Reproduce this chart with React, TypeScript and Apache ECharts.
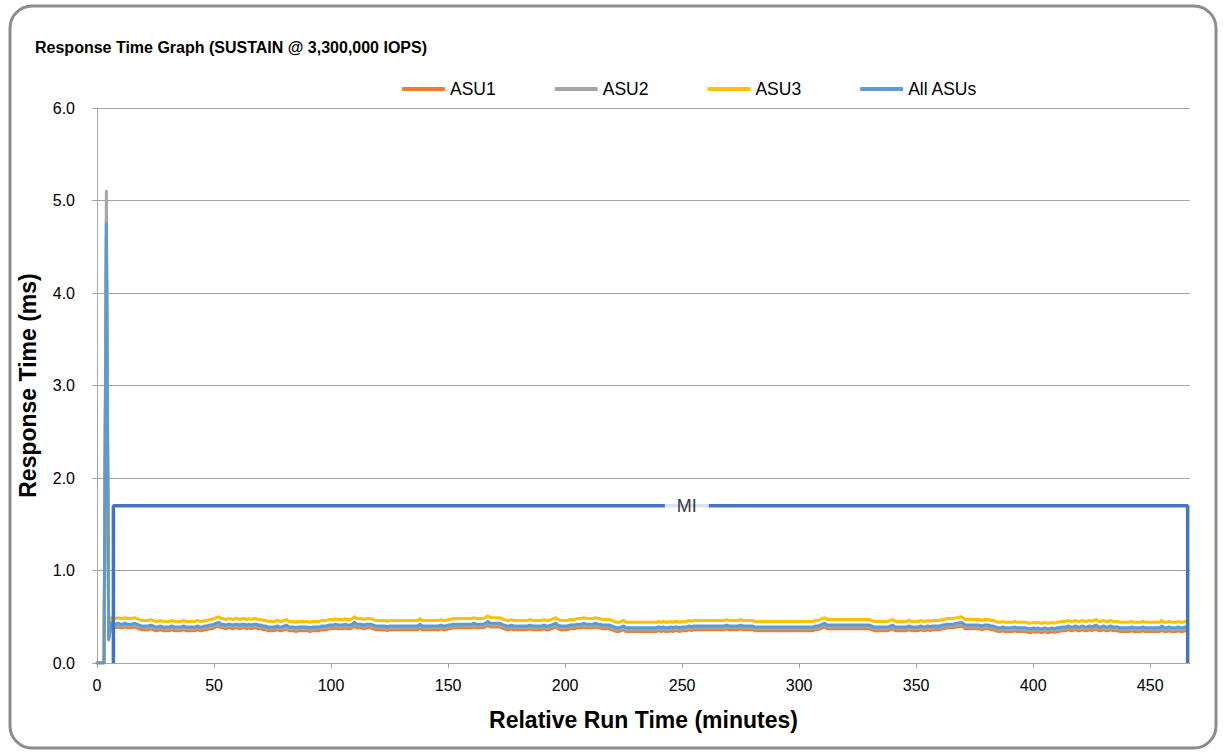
import React, { useEffect, useRef } from "react";
import * as echarts from "echarts";

const titleText = "Response Time Graph (SUSTAIN @ 3,300,000 IOPS)";
const seriesNames = ["ASU1", "ASU2", "ASU3", "All ASUs"];
const seriesColors = ["#ED7D31", "#A5A5A5", "#FFC000", "#5B9BD5"];
const xTicks = [0, 50, 100, 150, 200, 250, 300, 350, 400, 450];
const yTicks = [0, 1, 2, 3, 4, 5, 6];

// Response time (ms) per minute, minute 0..466
const asu3 = [
  0, 0, 0, 0, 4.40, 0.30, 0.49, 0.48, 0.48, 0.49,
  0.48, 0.48, 0.49, 0.48, 0.48, 0.48, 0.49, 0.48, 0.47, 0.46,
  0.46, 0.46, 0.46, 0.47, 0.46, 0.45, 0.45, 0.46, 0.45, 0.45,
  0.45, 0.45, 0.46, 0.45, 0.45, 0.45, 0.45, 0.46, 0.45, 0.45,
  0.45, 0.45, 0.45, 0.46, 0.45, 0.45, 0.46, 0.46, 0.47, 0.47,
  0.48, 0.49, 0.50, 0.48, 0.48, 0.47, 0.48, 0.48, 0.47, 0.48,
  0.48, 0.47, 0.48, 0.48, 0.47, 0.48, 0.47, 0.48, 0.48, 0.47,
  0.47, 0.46, 0.46, 0.45, 0.45, 0.45, 0.45, 0.46, 0.45, 0.45,
  0.46, 0.47, 0.45, 0.45, 0.45, 0.44, 0.45, 0.45, 0.45, 0.45,
  0.45, 0.44, 0.45, 0.45, 0.45, 0.45, 0.46, 0.46, 0.46, 0.47,
  0.47, 0.47, 0.48, 0.47, 0.47, 0.47, 0.48, 0.47, 0.47, 0.48,
  0.50, 0.48, 0.48, 0.48, 0.47, 0.48, 0.48, 0.48, 0.47, 0.46,
  0.46, 0.46, 0.46, 0.46, 0.45, 0.46, 0.46, 0.46, 0.46, 0.46,
  0.46, 0.46, 0.46, 0.46, 0.46, 0.46, 0.46, 0.46, 0.48, 0.46,
  0.46, 0.46, 0.46, 0.46, 0.46, 0.46, 0.46, 0.47, 0.46, 0.46,
  0.47, 0.47, 0.48, 0.48, 0.48, 0.48, 0.48, 0.48, 0.48, 0.48,
  0.48, 0.49, 0.48, 0.48, 0.48, 0.48, 0.49, 0.51, 0.49, 0.49,
  0.49, 0.49, 0.49, 0.48, 0.47, 0.46, 0.46, 0.47, 0.46, 0.46,
  0.46, 0.46, 0.46, 0.46, 0.46, 0.47, 0.46, 0.46, 0.46, 0.46,
  0.46, 0.47, 0.46, 0.46, 0.47, 0.48, 0.49, 0.47, 0.46, 0.46,
  0.46, 0.46, 0.47, 0.47, 0.47, 0.48, 0.48, 0.48, 0.49, 0.48,
  0.48, 0.48, 0.48, 0.49, 0.48, 0.48, 0.47, 0.47, 0.47, 0.47,
  0.46, 0.45, 0.44, 0.44, 0.45, 0.46, 0.44, 0.44, 0.44, 0.44,
  0.44, 0.44, 0.44, 0.44, 0.44, 0.44, 0.44, 0.44, 0.44, 0.44,
  0.45, 0.44, 0.45, 0.44, 0.44, 0.45, 0.44, 0.45, 0.45, 0.44,
  0.45, 0.45, 0.45, 0.46, 0.45, 0.46, 0.46, 0.46, 0.46, 0.46,
  0.46, 0.46, 0.46, 0.46, 0.46, 0.46, 0.46, 0.46, 0.46, 0.47,
  0.46, 0.46, 0.46, 0.46, 0.46, 0.47, 0.46, 0.46, 0.46, 0.46,
  0.46, 0.45, 0.45, 0.45, 0.45, 0.45, 0.45, 0.45, 0.45, 0.45,
  0.45, 0.45, 0.45, 0.45, 0.45, 0.45, 0.45, 0.45, 0.45, 0.45,
  0.45, 0.45, 0.45, 0.45, 0.45, 0.45, 0.45, 0.46, 0.46, 0.47,
  0.48, 0.49, 0.47, 0.47, 0.47, 0.47, 0.47, 0.47, 0.47, 0.47,
  0.47, 0.47, 0.47, 0.47, 0.47, 0.47, 0.47, 0.47, 0.47, 0.47,
  0.47, 0.46, 0.45, 0.45, 0.45, 0.45, 0.45, 0.45, 0.45, 0.46,
  0.47, 0.45, 0.45, 0.45, 0.45, 0.45, 0.45, 0.46, 0.45, 0.45,
  0.45, 0.45, 0.46, 0.45, 0.45, 0.46, 0.45, 0.46, 0.46, 0.46,
  0.46, 0.47, 0.47, 0.48, 0.48, 0.48, 0.48, 0.49, 0.49, 0.50,
  0.49, 0.47, 0.47, 0.47, 0.47, 0.47, 0.47, 0.47, 0.46, 0.47,
  0.47, 0.47, 0.46, 0.46, 0.45, 0.44, 0.44, 0.45, 0.44, 0.44,
  0.44, 0.44, 0.45, 0.44, 0.44, 0.44, 0.44, 0.44, 0.43, 0.43,
  0.44, 0.43, 0.44, 0.43, 0.43, 0.44, 0.43, 0.43, 0.44, 0.43,
  0.44, 0.44, 0.45, 0.45, 0.45, 0.46, 0.45, 0.45, 0.46, 0.45,
  0.45, 0.46, 0.45, 0.45, 0.46, 0.45, 0.46, 0.47, 0.45, 0.45,
  0.46, 0.45, 0.45, 0.46, 0.45, 0.45, 0.45, 0.44, 0.44, 0.44,
  0.44, 0.44, 0.45, 0.44, 0.44, 0.44, 0.44, 0.45, 0.44, 0.44,
  0.44, 0.44, 0.44, 0.44, 0.44, 0.46, 0.44, 0.44, 0.45, 0.44,
  0.44, 0.44, 0.45, 0.44, 0.44, 0.45, 0.44,
];

const allAsus = [
  0, 0, 0, 0, 4.75, 0.25, 0.43, 0.42, 0.42, 0.43,
  0.42, 0.42, 0.43, 0.42, 0.42, 0.42, 0.43, 0.42, 0.41, 0.40,
  0.40, 0.40, 0.40, 0.41, 0.40, 0.39, 0.39, 0.40, 0.39, 0.39,
  0.39, 0.39, 0.40, 0.39, 0.39, 0.39, 0.39, 0.40, 0.39, 0.39,
  0.39, 0.39, 0.39, 0.40, 0.39, 0.39, 0.40, 0.40, 0.41, 0.41,
  0.42, 0.43, 0.44, 0.42, 0.42, 0.41, 0.42, 0.42, 0.41, 0.42,
  0.42, 0.41, 0.42, 0.42, 0.41, 0.42, 0.41, 0.42, 0.42, 0.41,
  0.41, 0.40, 0.40, 0.39, 0.39, 0.39, 0.39, 0.40, 0.39, 0.39,
  0.40, 0.41, 0.39, 0.39, 0.39, 0.38, 0.39, 0.39, 0.39, 0.39,
  0.39, 0.38, 0.39, 0.39, 0.39, 0.39, 0.40, 0.40, 0.40, 0.41,
  0.41, 0.41, 0.42, 0.41, 0.41, 0.41, 0.42, 0.41, 0.41, 0.42,
  0.44, 0.42, 0.42, 0.42, 0.41, 0.42, 0.42, 0.42, 0.41, 0.40,
  0.40, 0.40, 0.40, 0.40, 0.39, 0.40, 0.40, 0.40, 0.40, 0.40,
  0.40, 0.40, 0.40, 0.40, 0.40, 0.40, 0.40, 0.40, 0.42, 0.40,
  0.40, 0.40, 0.40, 0.40, 0.40, 0.40, 0.40, 0.41, 0.40, 0.40,
  0.41, 0.41, 0.42, 0.42, 0.42, 0.42, 0.42, 0.42, 0.42, 0.42,
  0.42, 0.43, 0.42, 0.42, 0.42, 0.42, 0.43, 0.45, 0.43, 0.43,
  0.43, 0.43, 0.43, 0.42, 0.41, 0.40, 0.40, 0.41, 0.40, 0.40,
  0.40, 0.40, 0.40, 0.40, 0.40, 0.41, 0.40, 0.40, 0.40, 0.40,
  0.40, 0.41, 0.40, 0.40, 0.41, 0.42, 0.43, 0.41, 0.40, 0.40,
  0.40, 0.40, 0.41, 0.41, 0.41, 0.42, 0.42, 0.42, 0.43, 0.42,
  0.42, 0.42, 0.42, 0.43, 0.42, 0.42, 0.41, 0.41, 0.41, 0.41,
  0.40, 0.39, 0.38, 0.38, 0.39, 0.40, 0.38, 0.38, 0.38, 0.38,
  0.38, 0.38, 0.38, 0.38, 0.38, 0.38, 0.38, 0.38, 0.38, 0.38,
  0.39, 0.38, 0.39, 0.38, 0.38, 0.39, 0.38, 0.39, 0.39, 0.38,
  0.39, 0.39, 0.39, 0.40, 0.39, 0.40, 0.40, 0.40, 0.40, 0.40,
  0.40, 0.40, 0.40, 0.40, 0.40, 0.40, 0.40, 0.40, 0.40, 0.41,
  0.40, 0.40, 0.40, 0.40, 0.40, 0.41, 0.40, 0.40, 0.40, 0.40,
  0.40, 0.39, 0.39, 0.39, 0.39, 0.39, 0.39, 0.39, 0.39, 0.39,
  0.39, 0.39, 0.39, 0.39, 0.39, 0.39, 0.39, 0.39, 0.39, 0.39,
  0.39, 0.39, 0.39, 0.39, 0.39, 0.39, 0.39, 0.40, 0.40, 0.41,
  0.42, 0.43, 0.41, 0.41, 0.41, 0.41, 0.41, 0.41, 0.41, 0.41,
  0.41, 0.41, 0.41, 0.41, 0.41, 0.41, 0.41, 0.41, 0.41, 0.41,
  0.41, 0.40, 0.39, 0.39, 0.39, 0.39, 0.39, 0.39, 0.39, 0.40,
  0.41, 0.39, 0.39, 0.39, 0.39, 0.39, 0.39, 0.40, 0.39, 0.39,
  0.39, 0.39, 0.40, 0.39, 0.39, 0.40, 0.39, 0.40, 0.40, 0.40,
  0.40, 0.41, 0.41, 0.42, 0.42, 0.42, 0.42, 0.43, 0.43, 0.44,
  0.43, 0.41, 0.41, 0.41, 0.41, 0.41, 0.41, 0.41, 0.40, 0.41,
  0.41, 0.41, 0.40, 0.40, 0.39, 0.38, 0.38, 0.39, 0.38, 0.38,
  0.38, 0.38, 0.39, 0.38, 0.38, 0.38, 0.38, 0.38, 0.37, 0.37,
  0.38, 0.37, 0.38, 0.37, 0.37, 0.38, 0.37, 0.37, 0.38, 0.37,
  0.38, 0.38, 0.39, 0.39, 0.39, 0.40, 0.39, 0.39, 0.40, 0.39,
  0.39, 0.40, 0.39, 0.39, 0.40, 0.39, 0.40, 0.41, 0.39, 0.39,
  0.40, 0.39, 0.39, 0.40, 0.39, 0.39, 0.39, 0.38, 0.38, 0.38,
  0.38, 0.38, 0.39, 0.38, 0.38, 0.38, 0.38, 0.39, 0.38, 0.38,
  0.38, 0.38, 0.38, 0.38, 0.38, 0.40, 0.38, 0.38, 0.39, 0.38,
  0.38, 0.38, 0.39, 0.38, 0.38, 0.39, 0.38,
];

const asu2 = [
  0, 0, 0, 0, 5.10, 0.27, 0.41, 0.40, 0.40, 0.41,
  0.40, 0.40, 0.41, 0.40, 0.40, 0.40, 0.41, 0.40, 0.39, 0.38,
  0.38, 0.38, 0.38, 0.39, 0.38, 0.37, 0.37, 0.38, 0.37, 0.37,
  0.37, 0.37, 0.38, 0.37, 0.37, 0.37, 0.37, 0.38, 0.37, 0.37,
  0.37, 0.37, 0.37, 0.38, 0.37, 0.37, 0.38, 0.38, 0.39, 0.39,
  0.40, 0.41, 0.42, 0.40, 0.40, 0.39, 0.40, 0.40, 0.39, 0.40,
  0.40, 0.39, 0.40, 0.40, 0.39, 0.40, 0.39, 0.40, 0.40, 0.39,
  0.39, 0.38, 0.38, 0.37, 0.37, 0.37, 0.37, 0.38, 0.37, 0.37,
  0.38, 0.39, 0.37, 0.37, 0.37, 0.36, 0.37, 0.37, 0.37, 0.37,
  0.37, 0.36, 0.37, 0.37, 0.37, 0.37, 0.38, 0.38, 0.38, 0.39,
  0.39, 0.39, 0.40, 0.39, 0.39, 0.39, 0.40, 0.39, 0.39, 0.40,
  0.42, 0.40, 0.40, 0.40, 0.39, 0.40, 0.40, 0.40, 0.39, 0.38,
  0.38, 0.38, 0.38, 0.38, 0.37, 0.38, 0.38, 0.38, 0.38, 0.38,
  0.38, 0.38, 0.38, 0.38, 0.38, 0.38, 0.38, 0.38, 0.40, 0.38,
  0.38, 0.38, 0.38, 0.38, 0.38, 0.38, 0.38, 0.39, 0.38, 0.38,
  0.39, 0.39, 0.40, 0.40, 0.40, 0.40, 0.40, 0.40, 0.40, 0.40,
  0.40, 0.41, 0.40, 0.40, 0.40, 0.40, 0.41, 0.43, 0.41, 0.41,
  0.41, 0.41, 0.41, 0.40, 0.39, 0.38, 0.38, 0.39, 0.38, 0.38,
  0.38, 0.38, 0.38, 0.38, 0.38, 0.39, 0.38, 0.38, 0.38, 0.38,
  0.38, 0.39, 0.38, 0.38, 0.39, 0.40, 0.41, 0.39, 0.38, 0.38,
  0.38, 0.38, 0.39, 0.39, 0.39, 0.40, 0.40, 0.40, 0.41, 0.40,
  0.40, 0.40, 0.40, 0.41, 0.40, 0.40, 0.39, 0.39, 0.39, 0.39,
  0.38, 0.37, 0.36, 0.36, 0.37, 0.38, 0.36, 0.36, 0.36, 0.36,
  0.36, 0.36, 0.36, 0.36, 0.36, 0.36, 0.36, 0.36, 0.36, 0.36,
  0.37, 0.36, 0.37, 0.36, 0.36, 0.37, 0.36, 0.37, 0.37, 0.36,
  0.37, 0.37, 0.37, 0.38, 0.37, 0.38, 0.38, 0.38, 0.38, 0.38,
  0.38, 0.38, 0.38, 0.38, 0.38, 0.38, 0.38, 0.38, 0.38, 0.39,
  0.38, 0.38, 0.38, 0.38, 0.38, 0.39, 0.38, 0.38, 0.38, 0.38,
  0.38, 0.37, 0.37, 0.37, 0.37, 0.37, 0.37, 0.37, 0.37, 0.37,
  0.37, 0.37, 0.37, 0.37, 0.37, 0.37, 0.37, 0.37, 0.37, 0.37,
  0.37, 0.37, 0.37, 0.37, 0.37, 0.37, 0.37, 0.38, 0.38, 0.39,
  0.40, 0.41, 0.39, 0.39, 0.39, 0.39, 0.39, 0.39, 0.39, 0.39,
  0.39, 0.39, 0.39, 0.39, 0.39, 0.39, 0.39, 0.39, 0.39, 0.39,
  0.39, 0.38, 0.37, 0.37, 0.37, 0.37, 0.37, 0.37, 0.37, 0.38,
  0.39, 0.37, 0.37, 0.37, 0.37, 0.37, 0.37, 0.38, 0.37, 0.37,
  0.37, 0.37, 0.38, 0.37, 0.37, 0.38, 0.37, 0.38, 0.38, 0.38,
  0.38, 0.39, 0.39, 0.40, 0.40, 0.40, 0.40, 0.41, 0.41, 0.42,
  0.41, 0.39, 0.39, 0.39, 0.39, 0.39, 0.39, 0.39, 0.38, 0.39,
  0.39, 0.39, 0.38, 0.38, 0.37, 0.36, 0.36, 0.37, 0.36, 0.36,
  0.36, 0.36, 0.37, 0.36, 0.36, 0.36, 0.36, 0.36, 0.35, 0.35,
  0.36, 0.35, 0.36, 0.35, 0.35, 0.36, 0.35, 0.35, 0.36, 0.35,
  0.36, 0.36, 0.37, 0.37, 0.37, 0.38, 0.37, 0.37, 0.38, 0.37,
  0.37, 0.38, 0.37, 0.37, 0.38, 0.37, 0.38, 0.39, 0.37, 0.37,
  0.38, 0.37, 0.37, 0.38, 0.37, 0.37, 0.37, 0.36, 0.36, 0.36,
  0.36, 0.36, 0.37, 0.36, 0.36, 0.36, 0.36, 0.37, 0.36, 0.36,
  0.36, 0.36, 0.36, 0.36, 0.36, 0.38, 0.36, 0.36, 0.37, 0.36,
  0.36, 0.36, 0.37, 0.36, 0.36, 0.37, 0.36,
];

const asu1 = [
  0, 0, 0, 0, 4.60, 0.28, 0.39, 0.38, 0.38, 0.39,
  0.38, 0.38, 0.39, 0.38, 0.38, 0.38, 0.39, 0.38, 0.37, 0.36,
  0.36, 0.36, 0.36, 0.37, 0.36, 0.35, 0.35, 0.36, 0.35, 0.35,
  0.35, 0.35, 0.36, 0.35, 0.35, 0.35, 0.35, 0.36, 0.35, 0.35,
  0.35, 0.35, 0.35, 0.36, 0.35, 0.35, 0.36, 0.36, 0.37, 0.37,
  0.38, 0.39, 0.40, 0.38, 0.38, 0.37, 0.38, 0.38, 0.37, 0.38,
  0.38, 0.37, 0.38, 0.38, 0.37, 0.38, 0.37, 0.38, 0.38, 0.37,
  0.37, 0.36, 0.36, 0.35, 0.35, 0.35, 0.35, 0.36, 0.35, 0.35,
  0.36, 0.37, 0.35, 0.35, 0.35, 0.34, 0.35, 0.35, 0.35, 0.35,
  0.35, 0.34, 0.35, 0.35, 0.35, 0.35, 0.36, 0.36, 0.36, 0.37,
  0.37, 0.37, 0.38, 0.37, 0.37, 0.37, 0.38, 0.37, 0.37, 0.38,
  0.40, 0.38, 0.38, 0.38, 0.37, 0.38, 0.38, 0.38, 0.37, 0.36,
  0.36, 0.36, 0.36, 0.36, 0.35, 0.36, 0.36, 0.36, 0.36, 0.36,
  0.36, 0.36, 0.36, 0.36, 0.36, 0.36, 0.36, 0.36, 0.38, 0.36,
  0.36, 0.36, 0.36, 0.36, 0.36, 0.36, 0.36, 0.37, 0.36, 0.36,
  0.37, 0.37, 0.38, 0.38, 0.38, 0.38, 0.38, 0.38, 0.38, 0.38,
  0.38, 0.39, 0.38, 0.38, 0.38, 0.38, 0.39, 0.41, 0.39, 0.39,
  0.39, 0.39, 0.39, 0.38, 0.37, 0.36, 0.36, 0.37, 0.36, 0.36,
  0.36, 0.36, 0.36, 0.36, 0.36, 0.37, 0.36, 0.36, 0.36, 0.36,
  0.36, 0.37, 0.36, 0.36, 0.37, 0.38, 0.39, 0.37, 0.36, 0.36,
  0.36, 0.36, 0.37, 0.37, 0.37, 0.38, 0.38, 0.38, 0.39, 0.38,
  0.38, 0.38, 0.38, 0.39, 0.38, 0.38, 0.37, 0.37, 0.37, 0.37,
  0.36, 0.35, 0.34, 0.34, 0.35, 0.36, 0.34, 0.34, 0.34, 0.34,
  0.34, 0.34, 0.34, 0.34, 0.34, 0.34, 0.34, 0.34, 0.34, 0.34,
  0.35, 0.34, 0.35, 0.34, 0.34, 0.35, 0.34, 0.35, 0.35, 0.34,
  0.35, 0.35, 0.35, 0.36, 0.35, 0.36, 0.36, 0.36, 0.36, 0.36,
  0.36, 0.36, 0.36, 0.36, 0.36, 0.36, 0.36, 0.36, 0.36, 0.37,
  0.36, 0.36, 0.36, 0.36, 0.36, 0.37, 0.36, 0.36, 0.36, 0.36,
  0.36, 0.35, 0.35, 0.35, 0.35, 0.35, 0.35, 0.35, 0.35, 0.35,
  0.35, 0.35, 0.35, 0.35, 0.35, 0.35, 0.35, 0.35, 0.35, 0.35,
  0.35, 0.35, 0.35, 0.35, 0.35, 0.35, 0.35, 0.36, 0.36, 0.37,
  0.38, 0.39, 0.37, 0.37, 0.37, 0.37, 0.37, 0.37, 0.37, 0.37,
  0.37, 0.37, 0.37, 0.37, 0.37, 0.37, 0.37, 0.37, 0.37, 0.37,
  0.37, 0.36, 0.35, 0.35, 0.35, 0.35, 0.35, 0.35, 0.35, 0.36,
  0.37, 0.35, 0.35, 0.35, 0.35, 0.35, 0.35, 0.36, 0.35, 0.35,
  0.35, 0.35, 0.36, 0.35, 0.35, 0.36, 0.35, 0.36, 0.36, 0.36,
  0.36, 0.37, 0.37, 0.38, 0.38, 0.38, 0.38, 0.39, 0.39, 0.40,
  0.39, 0.37, 0.37, 0.37, 0.37, 0.37, 0.37, 0.37, 0.36, 0.37,
  0.37, 0.37, 0.36, 0.36, 0.35, 0.34, 0.34, 0.35, 0.34, 0.34,
  0.34, 0.34, 0.35, 0.34, 0.34, 0.34, 0.34, 0.34, 0.33, 0.33,
  0.34, 0.33, 0.34, 0.33, 0.33, 0.34, 0.33, 0.33, 0.34, 0.33,
  0.34, 0.34, 0.35, 0.35, 0.35, 0.36, 0.35, 0.35, 0.36, 0.35,
  0.35, 0.36, 0.35, 0.35, 0.36, 0.35, 0.36, 0.37, 0.35, 0.35,
  0.36, 0.35, 0.35, 0.36, 0.35, 0.35, 0.35, 0.34, 0.34, 0.34,
  0.34, 0.34, 0.35, 0.34, 0.34, 0.34, 0.34, 0.35, 0.34, 0.34,
  0.34, 0.34, 0.34, 0.34, 0.34, 0.36, 0.34, 0.34, 0.35, 0.34,
  0.34, 0.34, 0.35, 0.34, 0.34, 0.35, 0.34,
];

// Measurement interval bracket
const miStart = 7;
const miEnd = 466;
const miLevel = 1.7;
const miLabelX = 252;

const FONT = "'Liberation Sans', Arial, sans-serif";

export default function App() {
  const ref = useRef<HTMLDivElement>(null);

  useEffect(() => {
    if (!ref.current) return;
    const chart = echarts.init(ref.current, undefined, { renderer: "svg" });
    const dataSets = [asu1, asu2, asu3, allAsus];
    const lineSeries = dataSets.map((arr, si) => ({
      name: seriesNames[si],
      type: "line",
      data: arr.map((v, i) => [i, v]),
      showSymbol: false,
      symbol: "none",
      lineStyle: { color: seriesColors[si], width: 3, join: "round", cap: "round" },
      itemStyle: { color: seriesColors[si] },
      z: 3 + si,
    }));

    chart.setOption({
      animation: false,
      backgroundColor: "#fff",
      textStyle: { fontFamily: FONT },
      title: {
        text: titleText,
        left: 30,
        top: 34,
        textStyle: { fontFamily: FONT, fontSize: 16, fontWeight: "bold", color: "#000" },
      },
      legend: {
        data: seriesNames,
        left: 397,
        top: 75,
        itemWidth: 43,
        itemHeight: 4,
        itemGap: 59,
        icon: "roundRect",
        textStyle: { fontFamily: FONT, fontSize: 17.5, color: "#000" },
      },
      grid: { left: 97, right: 33, top: 108, bottom: 89 },
      xAxis: {
        type: "value",
        min: 0,
        max: 467,
        interval: 50,
        name: "Relative Run Time (minutes)",
        nameLocation: "middle",
        nameGap: 45,
        nameTextStyle: { fontFamily: FONT, fontSize: 23, fontWeight: "bold", color: "#000" },
        axisLine: { show: true, lineStyle: { color: "#A6A6A6", width: 1 } },
        axisTick: { show: true, length: 5, lineStyle: { color: "#A6A6A6" }, customValues: xTicks },
        axisLabel: { fontFamily: FONT, fontSize: 16, color: "#000", margin: 14, customValues: xTicks },
        splitLine: { show: false },
      },
      yAxis: {
        type: "value",
        min: 0,
        max: 6,
        interval: 1,
        name: "Response Time (ms)",
        nameLocation: "middle",
        nameGap: 58,
        nameTextStyle: { fontFamily: FONT, fontSize: 23, fontWeight: "bold", color: "#000" },
        axisLine: { show: true, lineStyle: { color: "#A6A6A6", width: 1 } },
        axisTick: { show: true, length: 5, lineStyle: { color: "#A6A6A6" }, customValues: yTicks },
        axisLabel: {
          fontFamily: FONT,
          fontSize: 16,
          color: "#000",
          margin: 22,
          customValues: yTicks,
          formatter: (v: number) => v.toFixed(1),
        },
        splitLine: { show: true, lineStyle: { color: "#A6A6A6", width: 1 } },
      },
      graphic: [
        {
          type: "rect",
          shape: { x: 10, y: 6, width: 1206, height: 742, r: 22 },
          style: { fill: "none", stroke: "#8C8C8C", lineWidth: 3 },
          silent: true,
          z: 100,
        },
      ],
      series: [
        ...lineSeries,
        {
          name: "MI",
          type: "line",
          data: [
            [miStart, 0],
            [miStart, miLevel],
            [miEnd, miLevel],
            [miEnd, 0],
          ],
          showSymbol: false,
          symbol: "none",
          lineStyle: { color: "#4472C4", width: 3.5 },
          z: 8,
        },
        {
          name: "MI label",
          type: "scatter",
          data: [[miLabelX, miLevel]],
          symbolSize: 1,
          itemStyle: { color: "rgba(0,0,0,0)" },
          label: {
            show: true,
            position: "inside",
            formatter: "MI",
            fontFamily: FONT,
            fontSize: 18,
            color: "#000",
            backgroundColor: "#fff",
            padding: [3, 12],
          },
          z: 9,
        },
      ],
    });
    return () => chart.dispose();
  }, []);

  return (
    <div
      ref={ref}
      style={{ position: "fixed", left: 0, top: 0, width: 1223, height: 752, background: "#fff" }}
    />
  );
}
